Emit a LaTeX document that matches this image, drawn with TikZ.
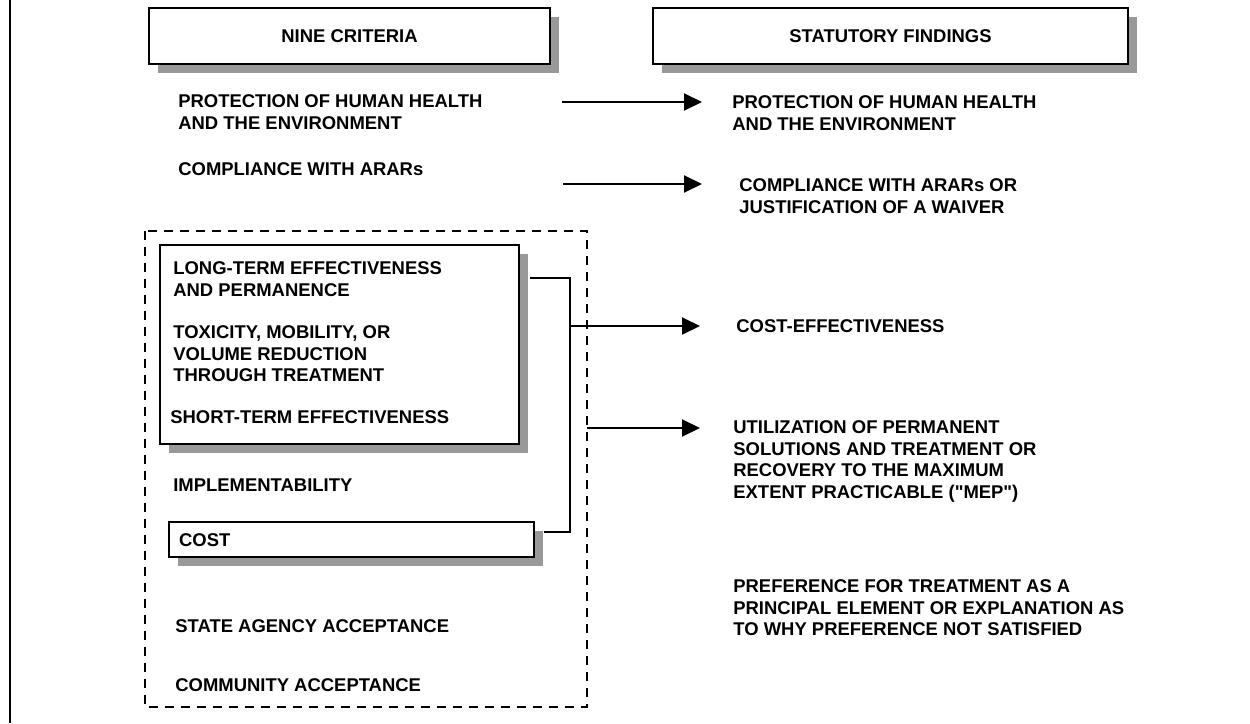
\documentclass[tikz,border=0pt]{standalone}
\usepackage{fontspec}
\setmainfont{Liberation Sans}
\usepackage{tikz}
\usetikzlibrary{arrows.meta,shadows,calc}
\definecolor{shadowgray}{gray}{0.6}
\tikzset{
  crit/.style={anchor=north west, inner sep=0pt, align=left, font=\bfseries\fontsize{10.5}{12.2}\selectfont},
  framebox/.style={draw=black, line width=1.3pt, fill=white, inner sep=0pt, font=\bfseries\fontsize{10.5}{12.2}\selectfont,
    general shadow={fill=shadowgray, shadow xshift=0.18cm, shadow yshift=-0.18cm}},
  link/.style={black, line width=1.1pt},
  arr/.style={link, -{Triangle[length=0.36cm,width=0.34cm]}},
  grp/.style={black, line width=1.1pt, dash pattern=on 0.18cm off 0.14cm}
}

\begin{document}
\begin{tikzpicture}
\useasboundingbox (0cm,0cm) rectangle (25cm,-14.46cm);
\draw[black, line width=1.1pt] (0.2cm,0cm) -- (0.2cm,-14.46cm);

\node[framebox, minimum width=8.02cm, minimum height=1.12cm] (nine) at (6.99cm,-0.72cm) {NINE CRITERIA};
\node[framebox, minimum width=9.5cm, minimum height=1.12cm] (stat) at (17.81cm,-0.72cm) {STATUTORY FINDINGS};

\draw[grp] (2.9cm,-4.62cm) rectangle (11.74cm,-14.14cm);
\node[framebox, anchor=north west, minimum width=7.18cm, minimum height=3.98cm] (bal) at (3.18cm,-4.88cm) {};
\node[framebox, anchor=north west, inner xsep=0.2cm, text width=6.9cm, align=left, minimum height=0.7cm] (cost) at (3.36cm,-10.42cm) {COST};

\node[crit] (phl) at (3.56cm,-1.89cm) {PROTECTION OF HUMAN HEALTH\\AND THE ENVIRONMENT};
\node[crit] (arl) at (3.56cm,-3.25cm) {COMPLIANCE WITH ARARs};
\node[crit] (lte) at (3.46cm,-5.23cm) {LONG-TERM EFFECTIVENESS\\AND PERMANENCE};
\node[crit] (tmv) at (3.46cm,-6.51cm) {TOXICITY, MOBILITY, OR\\VOLUME REDUCTION\\THROUGH TREATMENT};
\node[crit] (ste) at (3.40cm,-8.21cm) {SHORT-TERM EFFECTIVENESS};
\node[crit] (imp) at (3.46cm,-9.57cm) {IMPLEMENTABILITY};
\node[crit] (sta) at (3.50cm,-12.39cm) {STATE AGENCY ACCEPTANCE};
\node[crit] (com) at (3.50cm,-13.57cm) {COMMUNITY ACCEPTANCE};

\node[crit] (phr) at (14.64cm,-1.91cm) {PROTECTION OF HUMAN HEALTH\\AND THE ENVIRONMENT};
\node[crit] (arr) at (14.78cm,-3.57cm) {COMPLIANCE WITH ARARs OR\\JUSTIFICATION OF A WAIVER};
\node[crit] (cef) at (14.72cm,-6.39cm) {COST-EFFECTIVENESS};
\node[crit] (mep) at (14.66cm,-8.41cm) {UTILIZATION OF PERMANENT\\SOLUTIONS AND TREATMENT OR\\RECOVERY TO THE MAXIMUM\\EXTENT PRACTICABLE (\textquotedbl MEP\textquotedbl)};
\node[crit] (prf) at (14.66cm,-11.59cm) {PREFERENCE FOR TREATMENT AS A\\PRINCIPAL ELEMENT OR EXPLANATION AS\\TO WHY PREFERENCE NOT SATISFIED};

\coordinate (s1) at (11.24cm,-2.04cm);
\coordinate (s2) at (11.26cm,-3.68cm);
\coordinate (jtop) at (11.4cm,-5.56cm);
\coordinate (jmid) at (11.4cm,-6.52cm);
\coordinate (jbot) at (11.4cm,-10.64cm);
\coordinate (s4) at (11.74cm,-8.56cm);

\draw[arr] (s1) -- ([xshift=-0.6cm]s1 -| phr.west);
\draw[arr] (s2) -- ([xshift=-0.74cm]s2 -| arr.west);
\draw[link] ([xshift=0.2cm]bal.east |- jtop) -- (jtop) -- (jbot) -- ([xshift=0.18cm]cost.east |- jbot);
\draw[arr] (jmid) -- ([xshift=-0.72cm]jmid -| cef.west);
\draw[arr] (s4) -- ([xshift=-0.66cm]s4 -| mep.west);
\end{tikzpicture}
\end{document}
